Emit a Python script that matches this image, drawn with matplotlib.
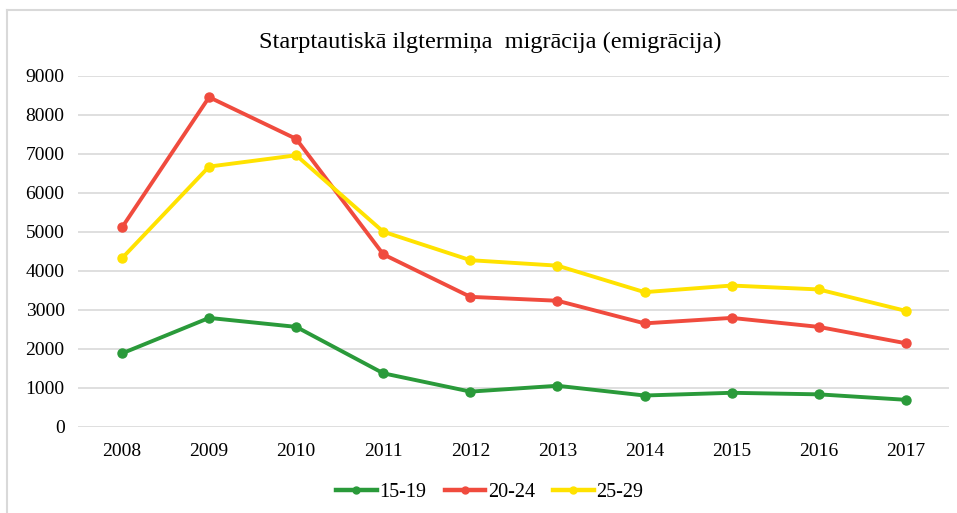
import matplotlib.pyplot as plt
from matplotlib.lines import Line2D

years = ['2008', '2009', '2010', '2011', '2012', '2013', '2014', '2015', '2016', '2017']
age_15_19 = [1880, 2790, 2560, 1370, 900, 1050, 800, 870, 830, 690]
age_20_24 = [5110, 8450, 7380, 4420, 3330, 3230, 2650, 2790, 2560, 2140]
age_25_29 = [4320, 6670, 6960, 5000, 4270, 4130, 3450, 3620, 3520, 2970]
labels = ['15-19', '20-24', '25-29']
colors = ['#2A9A3A', '#F04B3E', '#FFE200']

plt.rcParams['font.family'] = ['Liberation Serif', 'DejaVu Serif']

fig = plt.figure(figsize=(9.57, 5.13), dpi=100)
ax = fig.add_axes([0.082, 0.1682, 0.910, 0.6842])

x = range(len(years))
for vals, lab, col in zip([age_15_19, age_20_24, age_25_29], labels, colors):
    ax.plot(x, vals, color=col, lw=2.8, marker='o', ms=6.5, label=lab,
            solid_capstyle='round', solid_joinstyle='round', zorder=3)

ax.set_xlim(-0.5, len(years) - 0.5)
ax.set_ylim(0, 9000)
ax.set_yticks(range(0, 9001, 1000))
ax.set_xticks(list(x))
ax.set_xticklabels(years)
ax.grid(axis='y', color='#D9D9D9', lw=1.2)
ax.set_axisbelow(True)
for s in ax.spines.values():
    s.set_visible(False)
ax.tick_params(length=0, labelsize=14, colors='#000000')
ax.tick_params(axis='x', pad=12)
ax.tick_params(axis='y', pad=10)

fig.text(0.512, 0.918, 'Starptautiskā ilgtermiņa  migrācija (emigrācija)',
         ha='center', va='center', fontsize=17.5)

handles = [Line2D([], [], color=c, lw=3.2, marker='o', ms=5) for c in colors]
fig.legend(handles, labels, loc='center', bbox_to_anchor=(0.512, 0.04), ncol=3,
           frameon=False, fontsize=14.5, handlelength=2.0, handletextpad=0.15,
           columnspacing=0.9)

# light frame at top and left
fig.add_artist(Line2D([7.5 / 957, 1], [1 - 9.5 / 513] * 2, color='#D9D9D9', lw=1.5,
                      transform=fig.transFigure))
fig.add_artist(Line2D([7.5 / 957] * 2, [0, 1 - 9.5 / 513], color='#D9D9D9', lw=1.5,
                      transform=fig.transFigure))

fig.savefig('out.png', dpi=100)
